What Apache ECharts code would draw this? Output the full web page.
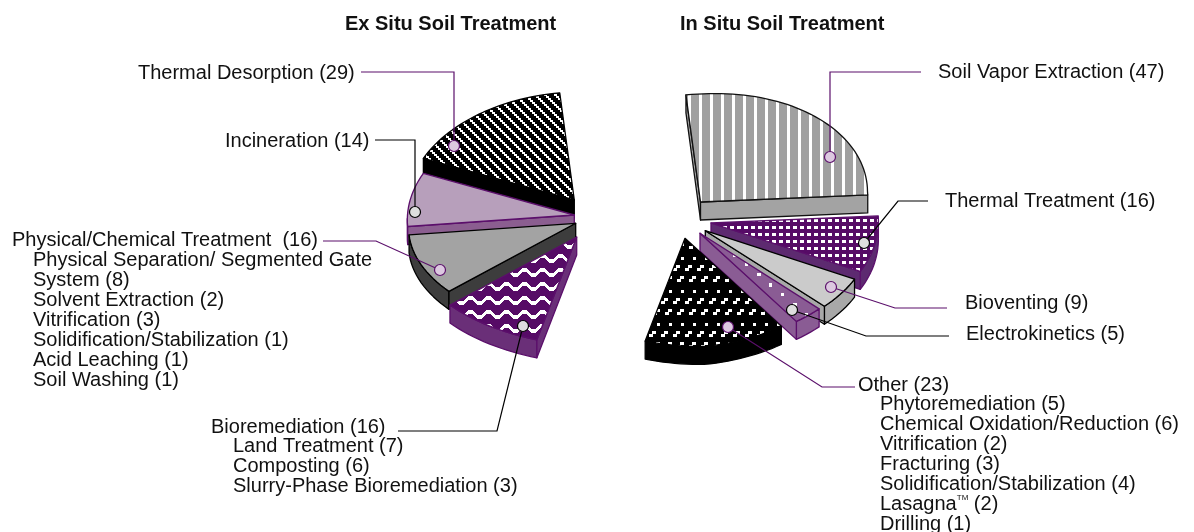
<!DOCTYPE html>
<html>
<head>
<meta charset="utf-8">
<title>Soil Treatment</title>
<script src="https://cdn.jsdelivr.net/npm/echarts@6/dist/echarts.min.js"></script>
<style>
    html, body { margin: 0; padding: 0; background: #fff; }
    #chart { width: 1194px; height: 532px; }
</style>
</head>
<body>
<div id="chart"></div>
<script>
// ============================================
// Data
// ============================================

const exSituNames = ['Thermal Desorption', 'Incineration', 'Physical/Chemical Treatment ', 'Bioremediation'];
const exSituValues = [29, 14, 16, 16];

const inSituNames = ['Soil Vapor Extraction', 'Thermal Treatment', 'Bioventing', 'Electrokinetics', 'Other'];
const inSituValues = [47, 16, 9, 5, 23];

const physicalNames = ['Physical Separation/ Segmented Gate\nSystem', 'Solvent Extraction', 'Vitrification', 'Solidification/Stabilization', 'Acid Leaching', 'Soil Washing'];
const physicalValues = [8, 2, 3, 1, 1, 1];

const bioNames = ['Land Treatment', 'Composting', 'Slurry-Phase Bioremediation'];
const bioValues = [7, 6, 3];

const otherNames = ['Phytoremediation', 'Chemical Oxidation/Reduction', 'Vitrification', 'Fracturing', 'Solidification/Stabilization', 'Lasagna™', 'Drilling'];
const otherValues = [5, 6, 2, 3, 4, 2, 1];

// ============================================
// Tilted pie geometry
// ============================================

const RX = 167;
const RY = 108;
const DEPTH = 18;
const START_ANGLE = 95;
const TOTAL = [...exSituValues, ...inSituValues].reduce((a, b) => a + b, 0);

const PURPLE = '#5b0f6b';

// Where each exploded slice has its point
const exSituApex = [[574.3, 200], [574.3, 215], [575.7, 223.3], [576.7, 237]];
const inSituApex = [[700.5, 202], [711, 223], [705.3, 230.7], [700, 233.3], [685, 238.3]];

/**
 * Projects a pie angle to an offset from the slice point.
 * The lower half leans right and the ellipse is turned slightly, as in the original view.
 */
function project(deg) {
    const c = Math.cos(deg * Math.PI / 180);
    const s = Math.sin(deg * Math.PI / 180);
    // Extra turn in the lower right quarter only
    const turn = (c > 0 && s < 0) ? 5 * Math.abs(2 * s * c) : 0;
    return [
        RX * c + (s < 0 ? 22 * s * s : 0) + turn,
        -RY * s - (c > 0 ? 10 : 5) * c - turn
    ];
}

// ============================================
// Fill patterns
// ============================================

function makeTile(w, h, bg, paint) {
    const canvas = document.createElement('canvas');
    canvas.width = w;
    canvas.height = h;
    const ctx = canvas.getContext('2d');
    ctx.fillStyle = bg;
    ctx.fillRect(0, 0, w, h);
    ctx.fillStyle = '#fff';
    paint(ctx);
    return { image: canvas, repeat: 'repeat' };
}

const patterns = {
    diagonal: makeTile(10, 10, '#000', ctx => {
        for (let y = 0; y < 10; y++) {
            for (let x = 0; x < 10; x++) {
                if ((x - Math.floor(y / 2) * 2 + 20) % 10 < 3) ctx.fillRect(x, y, 1, 1);
            }
        }
    }),
    zigzag: makeTile(18, 14, '#560b66', ctx => {
        const wave = [0, 0, 0, 0, 0, 1, 2, 3, 4, 5, 5, 5, 5, 5, 4, 3, 2, 1];
        wave.forEach((dy, x) => ctx.fillRect(x, 2 + dy, 1, 4));
    }),
    stripes: makeTile(11, 10, '#a0a0a0', ctx => ctx.fillRect(6, 0, 3, 10)),
    dots: makeTile(7, 7, '#560b66', ctx => ctx.fillRect(2, 2, 4, 3)),
    dashes: makeTile(12, 33, '#000', ctx => {
        [0, 4, 8].forEach((shift, row) => {
            const y = row * 11;
            ctx.fillRect(shift + 1, y + 4, 4, 3);
            ctx.fillRect(shift + 4, y + 1, 4, 3);
        });
    }),
    sparse: makeTile(36, 30, '#8a5c94', ctx => {
        ctx.fillRect(25, 23, 3, 3);
        ctx.fillRect(1, 3, 4, 3);
        ctx.fillRect(13, 13, 3, 4);
    })
};

const exSituStyle = [
    { top: patterns.diagonal, side: '#000', line: '#000' },
    { top: '#b79fbb', side: '#8b5e90', line: PURPLE },
    { top: '#a3a3a3', side: '#3d3d3d', line: '#000' },
    { top: patterns.zigzag, side: '#6a2f78', line: PURPLE }
];
const inSituStyle = [
    { top: patterns.stripes, side: '#a3a3a3', line: '#111' },
    { top: patterns.dots, side: '#5d2a70', line: PURPLE },
    { top: '#cbcbcb', side: '#a8a8a8', line: '#000' },
    { top: patterns.sparse, side: '#8a5c94', line: PURPLE },
    { top: patterns.dashes, side: '#000', line: '#000' }
];

// ============================================
// Slice drawing
// ============================================

function polygon(points, fill, line, z2) {
    return {
        type: 'polygon',
        z2: z2,
        shape: { points: points },
        style: { fill: fill, stroke: line, lineWidth: 1.3, lineJoin: 'round' }
    };
}

function lowered(p) {
    return [p[0], p[1] + DEPTH];
}

/**
 * Builds a slice: the visible side walls first, then the top face.
 */
function buildSlice(apex, fromDeg, toDeg, look, z2) {
    const step = toDeg > fromDeg ? 2 : -2;
    const count = Math.max(1, Math.round((toDeg - fromDeg) / step));
    const rim = [];
    for (let i = 0; i <= count; i++) {
        const off = project(fromDeg + (toDeg - fromDeg) * i / count);
        rim.push([apex[0] + off[0], apex[1] + off[1]]);
    }
    const outline = [apex, ...rim];

    let area = 0;
    outline.forEach((p, i) => {
        const q = outline[(i + 1) % outline.length];
        area += p[0] * q[1] - q[0] * p[1];
    });

    // A wall shows when its outward normal points down the screen
    const faces = (p, q) => (q[0] - p[0]) * (area > 0 ? 1 : -1) < 0;
    const children = [];
    const addWall = run => {
        if (run.length < 2) return;
        children.push(polygon([...run, ...run.slice().reverse().map(lowered)], look.side, look.line, z2));
    };

    if (faces(apex, rim[0])) addWall([apex, rim[0]]);
    let run = [];
    for (let i = 0; i < rim.length - 1; i++) {
        if (faces(rim[i], rim[i + 1])) {
            if (!run.length) run.push(rim[i]);
            run.push(rim[i + 1]);
        } else {
            addWall(run);
            run = [];
        }
    }
    addWall(run);
    if (faces(rim[rim.length - 1], apex)) addWall([rim[rim.length - 1], apex]);

    children.push(polygon(outline, look.top, look.line, z2 + 1));
    return { type: 'group', children: children };
}

function pieSeries(values, direction, apexes, looks) {
    return {
        type: 'custom',
        coordinateSystem: 'none',
        silent: true,
        animation: false,
        clip: false,
        data: values.map(v => [v]),
        renderItem: (params, api) => {
            const i = params.dataIndex;
            const before = values.slice(0, i).reduce((a, b) => a + b, 0);
            const sweep = direction * 360 / TOTAL;
            const fromDeg = START_ANGLE + before * sweep;
            const toDeg = fromDeg + api.value(0) * sweep;
            return buildSlice(apexes[i], fromDeg, toDeg, looks[i], i * 2);
        }
    };
}

// ============================================
// Text and leader lines
// ============================================

const FONT = '20px "Liberation Sans", Arial, sans-serif';
const FONT_BOLD = 'bold 20px "Liberation Sans", Arial, sans-serif';

function textEl(x, y, text, font) {
    return {
        type: 'text',
        z: 20,
        silent: true,
        style: {
            x: x,
            y: y,
            // The trade mark sign is much smaller in the original
            text: text.replace('™', '{tm|TM}'),
            font: font || FONT,
            fill: '#111',
            textVerticalAlign: 'middle',
            rich: { tm: { fontFamily: 'Liberation Sans', fontSize: 8, fill: '#111', verticalAlign: 'top', lineHeight: 16 } }
        }
    };
}

function textBlock(x, y, lines) {
    return lines.map((line, i) => textEl(x, y + i * 20, line));
}

function nested(names, values) {
    const lines = [];
    names.forEach((name, i) => {
        (name + ' (' + values[i] + ')').split('\n').forEach(part => lines.push(part));
    });
    return lines;
}

function leader(points, color, dotFill) {
    const end = points[points.length - 1];
    return [
        { type: 'polyline', z: 15, silent: true, shape: { points: points }, style: { fill: 'none', stroke: color, lineWidth: 1.2 } },
        { type: 'circle', z: 16, silent: true, shape: { cx: end[0], cy: end[1], r: 5.5 }, style: { fill: dotFill, stroke: color, lineWidth: 1.2 } }
    ];
}

const LILAC = '#dcc8e0';
const PALE = '#dedede';

const annotations = [
    textEl(345, 24, 'Ex Situ Soil Treatment', FONT_BOLD),
    textEl(680, 24, 'In Situ Soil Treatment', FONT_BOLD),

    textEl(138, 73, exSituNames[0] + ' (' + exSituValues[0] + ')'),
    textEl(225, 141, exSituNames[1] + ' (' + exSituValues[1] + ')'),
    textEl(12, 240, exSituNames[2] + ' (' + exSituValues[2] + ')'),
    ...textBlock(33, 260, nested(physicalNames, physicalValues)),
    textEl(211, 427, exSituNames[3] + ' (' + exSituValues[3] + ')'),
    ...textBlock(233, 446, nested(bioNames, bioValues)),

    textEl(938, 72, inSituNames[0] + ' (' + inSituValues[0] + ')'),
    textEl(945, 201, inSituNames[1] + ' (' + inSituValues[1] + ')'),
    textEl(965, 303, inSituNames[2] + ' (' + inSituValues[2] + ')'),
    textEl(966, 334, inSituNames[3] + ' (' + inSituValues[3] + ')'),
    textEl(858, 385, inSituNames[4] + ' (' + inSituValues[4] + ')'),
    ...textBlock(880, 404, nested(otherNames, otherValues)),

    ...leader([[361, 72], [454, 72], [454, 146]], PURPLE, LILAC),
    ...leader([[375, 140], [415, 140], [415, 212]], '#000', PALE),
    ...leader([[323, 241], [376, 241], [440, 270]], PURPLE, LILAC),
    ...leader([[398, 431], [497, 431], [523, 326]], '#000', PALE),
    ...leader([[921, 72], [830, 72], [830, 157]], PURPLE, LILAC),
    ...leader([[928, 201], [898, 201], [864, 243]], '#000', PALE),
    ...leader([[947, 308], [895, 308], [831, 287]], PURPLE, LILAC),
    ...leader([[949, 336], [866, 336], [792, 310]], '#000', PALE),
    ...leader([[855, 387], [822, 387], [728, 327]], PURPLE, LILAC)
];

// ============================================
// Chart
// ============================================

const chart = echarts.init(document.getElementById('chart'), null, { renderer: 'canvas' });
chart.setOption({
    animation: false,
    backgroundColor: '#fff',
    series: [
        pieSeries(exSituValues, 1, exSituApex, exSituStyle),
        pieSeries(inSituValues, -1, inSituApex, inSituStyle)
    ],
    graphic: { elements: annotations }
});
</script>
</body>
</html>
